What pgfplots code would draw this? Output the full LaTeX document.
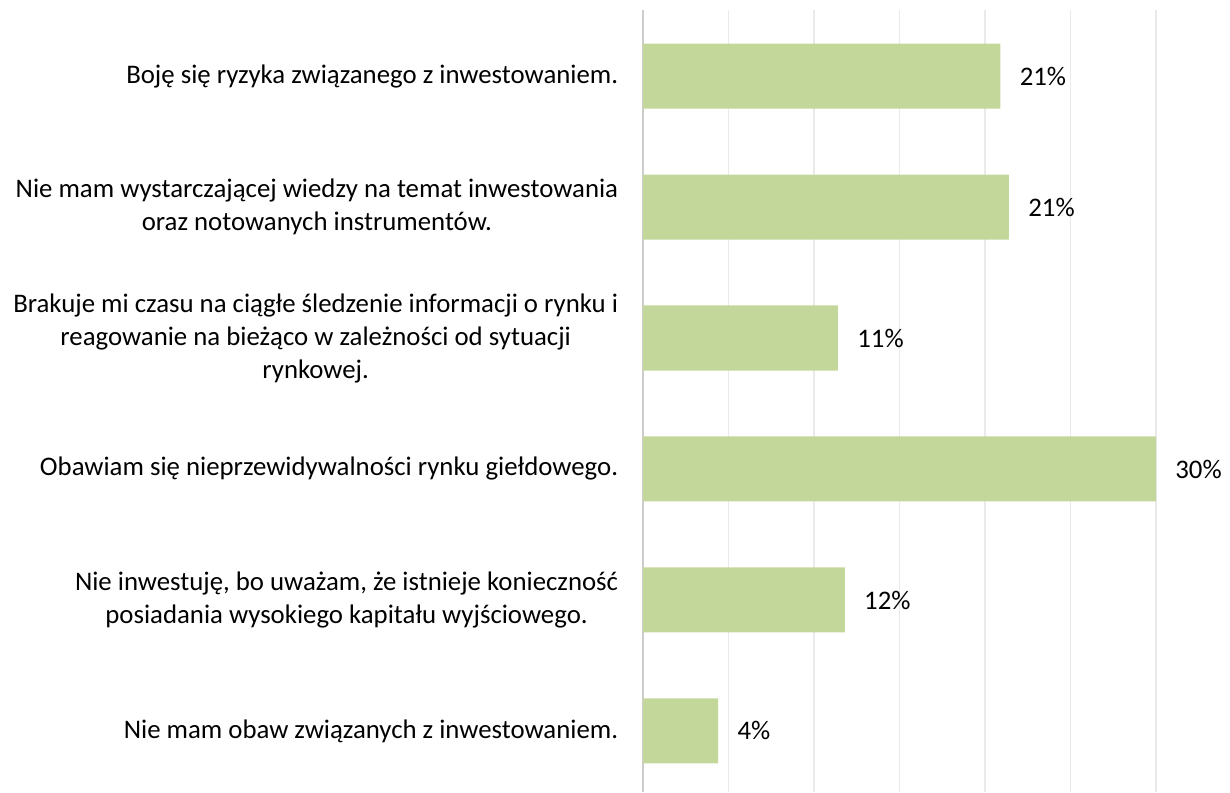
\documentclass[border=0pt]{standalone}
\usepackage{pgfplots}
\pgfplotsset{compat=1.18}
\usepackage{fontspec}
\setmainfont{Carlito}
\definecolor{barfill}{RGB}{196,215,155}
\definecolor{gridgray}{RGB}{234,234,234}
\definecolor{axisgray}{RGB}{205,205,205}

\begin{document}
\begin{tikzpicture}
\useasboundingbox (0,0) rectangle (615pt,396pt);
\begin{axis}[
    at={(321.5pt,0pt)}, anchor=south west,
    scale only axis,
    width=256.5pt, height=391pt,
    xbar, bar width=32.5pt,
    xmin=0, xmax=30,
    ymin=-0.504, ymax=5.466, y dir=reverse,
    xtick={0,5,...,30}, xticklabels={},
    xmajorgrids, grid style={gridgray, line width=0.8pt},
    extra x ticks={0}, extra x tick labels={},
    extra x tick style={grid style={axisgray, line width=1pt}},
    axis line style={draw=none},
    tick style={draw=none},
    ytick={0,...,5},
    yticklabels={
        {Boję się ryzyka związanego z inwestowaniem.},
        {Nie mam wystarczającej wiedzy na temat inwestowania\\oraz notowanych instrumentów.},
        {Brakuje mi czasu na ciągłe śledzenie informacji o rynku i\\reagowanie na bieżąco w zależności od sytuacji\\rynkowej.},
        {Obawiam się nieprzewidywalności rynku giełdowego.},
        {Nie inwestuję, bo uważam, że istnieje konieczność\\posiadania wysokiego kapitału wyjściowego.},
        {Nie mam obaw związanych z inwestowaniem.}
    },
    yticklabel style={align=center, inner sep=0pt, xshift=-8pt,
        font=\fontsize{13.4}{16.5}\selectfont},
    clip=false,
    nodes near coords,
    point meta=explicit symbolic,
    every node near coord/.append style={font=\fontsize{13.4}{16.5}\selectfont,
        anchor=west, inner sep=0pt, xshift=9.5pt},
]
\addplot[fill=barfill, draw=none] coordinates {
    (20.9,0) [21\%]
    (21.4,1) [21\%]
    (11.4,2) [11\%]
    (30.0,3) [30\%]
    (11.8,4) [12\%]
    (4.4,5) [4\%]
};
\end{axis}
\end{tikzpicture}
\end{document}
